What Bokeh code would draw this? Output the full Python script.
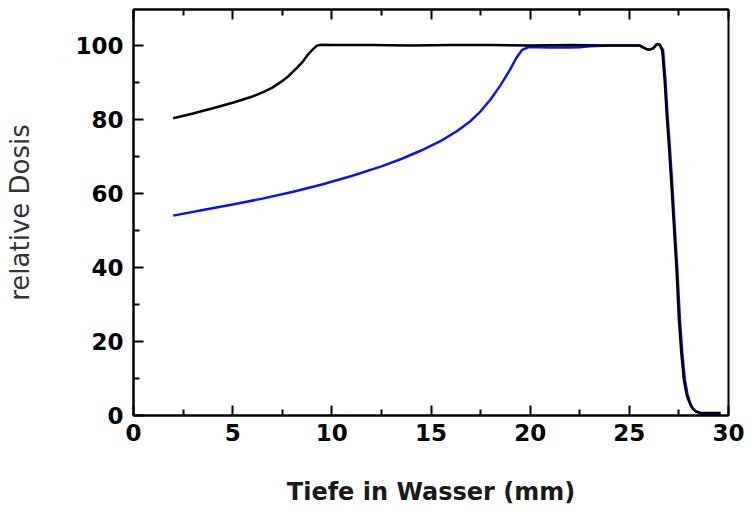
from bokeh.plotting import figure
from bokeh.models import LinearAxis, FixedTicker, Range1d
from bokeh.embed import file_html
from bokeh.resources import INLINE

# --- data ---
black_x = [2.0, 3.0, 4.0, 5.0, 6.0, 6.6, 7.0, 7.4, 7.8, 8.25, 8.5, 8.76, 9.0, 9.26, 9.5,
           10, 12, 14, 16, 18, 20, 22, 24, 25.0, 25.5, 25.82, 26.0, 26.2, 26.4, 26.52,
           26.66, 26.78, 26.88, 27.0, 27.11, 27.25, 27.38, 27.5, 27.62, 27.75, 27.88,
           28.0, 28.15, 28.34, 28.6, 29.0, 29.6]
black_y = [80.3, 81.6, 83.0, 84.5, 86.2, 87.5, 88.6, 90.0, 91.6, 94.0, 95.4, 97.3, 98.7, 100.0, 100.2,
           100.1, 100.1, 100.0, 100.1, 100.1, 100.0, 100.1, 100.0, 100.0, 100.0, 99.1, 98.8, 99.2, 100.4, 100.2,
           98.7, 90.6, 81.6, 72.6, 63.6, 51.0, 39.4, 25.9, 16.9, 9.7, 5.8,
           3.9, 2.2, 1.2, 0.7, 0.7, 0.7]

blue_x = [2.0, 3.5, 5.0, 6.5, 8.0, 9.5, 11.0, 12.5, 13.5, 14.5, 15.5, 16.3, 17.0, 17.5,
          18.0, 18.5, 19.0, 19.3, 19.6, 19.9, 20.3, 21.0, 22.0, 22.5, 23.0, 24.0, 25.0,
          25.5, 25.82, 26.0, 26.2, 26.4, 26.54, 26.7, 26.82, 26.92, 27.04, 27.15, 27.29,
          27.42, 27.55, 27.67, 27.8, 27.93, 28.05, 28.2, 28.4, 28.65, 29.0, 29.6]
blue_y = [54.0, 55.5, 57.0, 58.6, 60.4, 62.4, 64.7, 67.3, 69.3, 71.6, 74.2, 76.8, 79.6, 82.2,
          85.4, 89.2, 93.6, 96.6, 98.8, 99.5, 99.5, 99.4, 99.4, 99.5, 99.8, 100.0, 100.0,
          100.0, 99.1, 98.8, 99.2, 100.4, 100.2, 98.7, 90.6, 81.6, 72.6, 63.6, 51.0,
          39.4, 25.9, 16.9, 9.7, 5.8, 3.6, 1.8, 0.9, 0.5, 0.5, 0.5]

x_major = [0, 5, 10, 15, 20, 25, 30]
x_minor = [2.5, 7.5, 12.5, 17.5, 22.5, 27.5]
y_major = [0, 20, 40, 60, 80, 100]
y_minor = [10, 30, 50, 70, 90]

FONT = "DejaVu Sans"

p = figure(width=746, height=508, output_backend="svg", toolbar_location=None,
           x_range=Range1d(0, 30), y_range=Range1d(0, 109.7),
           x_axis_type=None, y_axis_type=None,
           min_border_left=133, min_border_right=18, min_border_top=9, min_border_bottom=93)
p.grid.visible = False
p.outline_line_color = "black"
p.outline_line_width = 2
p.background_fill_color = "white"
p.border_fill_color = "white"


def style(ax):
    ax.axis_line_width = 2
    ax.axis_line_color = "black"
    ax.major_tick_in = 10
    ax.major_tick_out = 0
    ax.minor_tick_in = 6
    ax.minor_tick_out = 0
    ax.major_tick_line_width = 2
    ax.minor_tick_line_width = 2
    ax.major_label_text_font = FONT
    ax.major_label_text_font_style = "bold"
    ax.major_label_text_font_size = "23px"
    ax.major_label_text_color = "black"


xaxis = LinearAxis(ticker=FixedTicker(ticks=x_major, minor_ticks=x_minor))
style(xaxis)
xaxis.major_label_standoff = 8
xaxis.axis_label = "Tiefe in Wasser (mm)"
xaxis.axis_label_text_font = FONT
xaxis.axis_label_text_font_style = "bold"
xaxis.axis_label_text_font_size = "24px"
xaxis.axis_label_text_color = "#1a1a1a"
xaxis.axis_label_standoff = 34
p.add_layout(xaxis, "below")

yaxis = LinearAxis(ticker=FixedTicker(ticks=y_major, minor_ticks=y_minor))
style(yaxis)
yaxis.major_label_standoff = 10
yaxis.axis_label = "relative Dosis"
yaxis.axis_label_text_font = FONT
yaxis.axis_label_text_font_style = "normal"
yaxis.axis_label_text_font_size = "26px"
yaxis.axis_label_text_color = "#333333"
yaxis.axis_label_standoff = 37
p.add_layout(yaxis, "left")

top = LinearAxis(ticker=FixedTicker(ticks=x_major, minor_ticks=x_minor))
style(top)
top.major_label_overrides = {t: "" for t in x_major}
top.major_label_standoff = 0
p.add_layout(top, "above")

p.line(blue_x, blue_y, line_color="#0a14f0", line_width=2.5)
p.line(black_x, black_y, line_color="black", line_width=2.5)

open("out.html", "w").write(file_html(p, INLINE))
